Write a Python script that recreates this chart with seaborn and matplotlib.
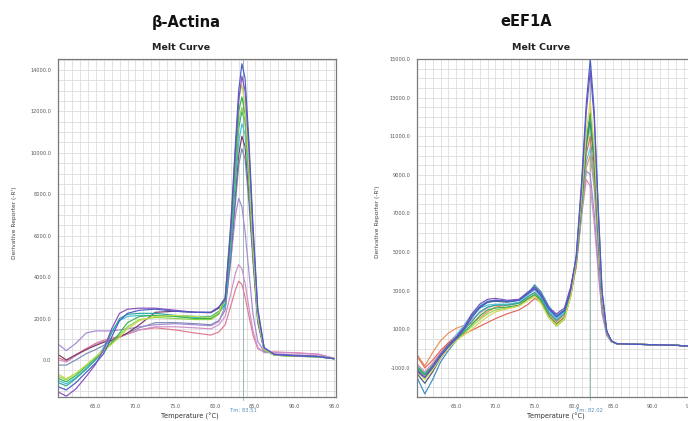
import matplotlib
matplotlib.use("Agg")
import matplotlib.pyplot as plt
from matplotlib.ticker import MultipleLocator, FormatStrFormatter
import pandas as pd
import seaborn as sns

# ---------------- β-Actina melt curves ----------------
temp_actin = [60.3, 61.3, 62.5, 63.8, 65.0, 66.0, 67.0, 68.0, 69.0, 70.5, 72.5, 75.0,
              77.5, 79.5, 80.5, 81.3, 82.0, 82.6, 83.0, 83.4, 83.8, 84.3, 84.8, 85.4,
              86.2, 87.5, 90.0, 93.0, 95.0]

actin_wells = ["blue-gray", "pink", "light purple", "lavender", "maroon", "cyan", "teal",
               "lime", "green", "yellow-green", "purple", "blue"]
actin_colors = ["#7d8db0", "#e07890", "#d08fc8", "#a688d4", "#7a3a66", "#45c2d8", "#2aa89a",
                "#8fd44a", "#3cb44a", "#c8dc50", "#8a4fc0", "#4a5cc8"]
actin_deriv = [
    [-250, -250, 0, 300, 500, 700, 900, 1100, 1300, 1550, 1800, 1800, 1750, 1700, 1900,
     2400, 4800, 7600, 9400, 10200, 9700, 7500, 4700, 1800, 450, 260, 200, 160, 60],
    [100, -50, 250, 550, 800, 950, 1050, 1150, 1250, 1450, 1550, 1450, 1300, 1200, 1350,
     1700, 2600, 3400, 3800, 3650, 3050, 2100, 1200, 550, 380, 380, 350, 280, 80],
    [0, -100, 200, 500, 750, 900, 1000, 1100, 1250, 1450, 1600, 1600, 1550, 1500, 1700,
     2100, 3200, 4200, 4600, 4400, 3700, 2500, 1400, 600, 350, 370, 340, 270, 80],
    [750, 450, 800, 1300, 1400, 1400, 1400, 1450, 1500, 1600, 1700, 1750, 1700, 1650, 1850,
     2600, 4800, 7000, 7800, 7400, 6200, 4200, 2200, 900, 400, 300, 250, 200, 70],
    [250, 0, 250, 500, 700, 850, 950, 1100, 1300, 1700, 2300, 2350, 2300, 2280, 2500,
     2600, 5100, 8100, 9900, 10800, 10300, 8000, 5000, 1900, 480, 260, 200, 160, 60],
    [-1000, -1150, -850, -400, 50, 600, 1400, 1900, 2100, 2150, 2150, 2100, 2050, 2050, 2300,
     2600, 5300, 8500, 10500, 11400, 10900, 8400, 5200, 2000, 480, 240, 190, 150, 60],
    [-1100, -1250, -900, -450, 0, 500, 1300, 2000, 2200, 2250, 2250, 2150, 2100, 2100, 2350,
     2700, 5600, 9000, 11200, 12000, 11500, 8900, 5500, 2100, 500, 230, 180, 150, 60],
    [-800, -950, -650, -250, 150, 500, 850, 1200, 1600, 1950, 2050, 2000, 1950, 1950, 2200,
     2900, 6000, 9400, 11500, 12200, 11500, 8800, 5400, 2100, 500, 230, 180, 150, 60],
    [-900, -1050, -750, -300, 100, 400, 800, 1300, 1800, 2100, 2150, 2100, 2000, 2000, 2250,
     3000, 6300, 9800, 12000, 12700, 11900, 9000, 5500, 2100, 500, 230, 180, 150, 60],
    [-700, -900, -650, -250, 150, 450, 750, 1100, 1500, 1900, 2100, 2150, 2100, 2050, 2300,
     3100, 6600, 10300, 12600, 13300, 12300, 9200, 5500, 2100, 500, 230, 180, 150, 60],
    [-1550, -1750, -1400, -800, -200, 500, 1500, 2250, 2450, 2500, 2500, 2400, 2300, 2300, 2550,
     2900, 6200, 10100, 12500, 13700, 13000, 10100, 6200, 2400, 580, 260, 200, 160, 60],
    [-1300, -1450, -1100, -600, -150, 300, 1100, 1900, 2250, 2400, 2450, 2350, 2300, 2300, 2550,
     3000, 6500, 10500, 13000, 14300, 13600, 10500, 6500, 2500, 600, 260, 200, 160, 60],
]
actin_tm = 83.51

# ---------------- eEF1A melt curves ----------------
temp_eef = [60.0, 61.0, 62.0, 63.0, 64.0, 65.0, 66.0, 67.0, 68.0, 69.0, 70.0, 71.5, 73.0,
            74.2, 75.0, 75.8, 76.8, 77.8, 78.8, 79.6, 80.3, 81.0, 81.6, 82.1, 82.6, 83.1,
            83.6, 84.2, 84.8, 85.5, 87.0, 90.0, 93.0, 95.2]

eef_wells = ["pink", "lavender", "orange", "cyan", "salmon", "lime", "teal", "slate",
             "blue-teal", "green", "yellow", "purple", "blue"]
eef_colors = ["#e08cb8", "#a088d8", "#e8905a", "#50c8e0", "#e06a55", "#98d450", "#2aa89a",
              "#4a5a70", "#3a8cc0", "#3cac4a", "#dcd45a", "#8050c0", "#4a5cc8"]
eef_deriv = [
    [-800, -1200, -750, -200, 300, 700, 1100, 1500, 1850, 2100, 2250, 2250, 2350, 2700, 2900,
     2550, 1900, 1500, 1800, 2800, 4200, 6900, 8750, 8400, 6500, 4000, 1800, 680, 350, 250,
     230, 200, 170, 110],
    [-1000, -1400, -950, -350, 150, 600, 1100, 1700, 2150, 2400, 2500, 2450, 2500, 2850, 3050,
     2700, 2000, 1600, 1900, 3000, 4300, 7100, 9200, 9000, 7000, 4300, 1900, 700, 350, 250,
     230, 200, 170, 110],
    [-300, -900, -200, 400, 800, 1050, 1200, 1300, 1600, 1900, 2150, 2250, 2350, 2600, 2750,
     2500, 1800, 1400, 1700, 2800, 4300, 7000, 9400, 10000, 8300, 5200, 2250, 780, 360, 240,
     230, 200, 170, 110],
    [-1000, -1350, -900, -300, 200, 700, 1200, 1800, 2100, 2250, 2300, 2300, 2400, 2800, 3050,
     2700, 1950, 1550, 1900, 3000, 4400, 7100, 9700, 10400, 8600, 5400, 2300, 800, 360, 240,
     230, 200, 170, 110],
    [-400, -1000, -600, -100, 300, 550, 750, 950, 1150, 1350, 1550, 1800, 2000, 2300, 2600,
     2400, 1700, 1300, 1600, 2700, 4300, 7300, 10100, 11000, 9000, 5600, 2400, 800, 370, 240,
     230, 200, 170, 110],
    [-1100, -1450, -1000, -450, 50, 450, 800, 1150, 1500, 1800, 2000, 2100, 2200, 2550, 2750,
     2400, 1600, 1150, 1500, 2700, 4400, 7400, 10400, 11500, 9500, 5900, 2500, 820, 370, 240,
     230, 200, 170, 110],
    [-900, -1300, -850, -300, 150, 550, 950, 1400, 1900, 2150, 2250, 2250, 2350, 2700, 2900,
     2600, 1850, 1450, 1800, 2900, 4500, 7500, 10600, 11800, 9700, 6000, 2550, 850, 380, 240,
     230, 200, 170, 110],
    [-1300, -1800, -1200, -500, 50, 550, 1050, 1700, 2150, 2400, 2450, 2400, 2500, 2900, 3200,
     2850, 2100, 1700, 2000, 3100, 4600, 7600, 10700, 11900, 9800, 6100, 2600, 850, 380, 240,
     230, 200, 170, 110],
    [-1500, -2350, -1600, -700, -100, 400, 1000, 1700, 2200, 2450, 2500, 2450, 2500, 2900, 3300,
     2950, 2200, 1700, 2000, 3100, 4600, 7700, 10800, 12000, 9900, 6100, 2600, 850, 380, 240,
     230, 200, 170, 110],
    [-1000, -1350, -900, -400, 100, 500, 850, 1250, 1700, 2000, 2100, 2150, 2250, 2600, 2800,
     2500, 1700, 1250, 1600, 2800, 4500, 7700, 10900, 12200, 10000, 6200, 2600, 850, 380, 240,
     230, 200, 170, 110],
    [-1200, -1600, -1100, -500, 0, 400, 700, 1000, 1350, 1650, 1900, 2050, 2200, 2500, 2700,
     2350, 1600, 1200, 1550, 2700, 4600, 7900, 11300, 12800, 10500, 6500, 2700, 850, 380, 240,
     230, 200, 170, 110],
    [-1200, -1500, -900, -300, 200, 600, 1100, 1800, 2300, 2550, 2600, 2500, 2550, 2950, 3150,
     2800, 2100, 1800, 2100, 3200, 4700, 8400, 12300, 14400, 11900, 7300, 2950, 900, 400, 250,
     230, 200, 170, 110],
    [-1100, -1500, -1000, -400, 100, 500, 1000, 1600, 2100, 2400, 2500, 2450, 2500, 2850, 3100,
     2750, 2050, 1650, 1950, 3000, 4800, 8700, 12750, 15000, 12300, 7500, 3000, 900, 400, 250,
     230, 200, 170, 110],
]
eef_tm = 82.02

sns.set_theme(style="white")
plt.rcParams["font.family"] = ["DejaVu Sans"]

W, H = 688, 421
fig = plt.figure(figsize=(W / 100, H / 100), dpi=100)
fig.patch.set_facecolor("white")


def long_table(temps, wells, values):
    rows = []
    for well, series in zip(wells, values):
        for t, v in zip(temps, series):
            rows.append({"temp": t, "deriv": v, "well": well})
    return pd.DataFrame(rows)


def panel(rect, temps, wells, colors, values, xlim, ylim, yticks, tm):
    ax = fig.add_axes(rect)
    df = long_table(temps, wells, values)
    sns.lineplot(data=df, x="temp", y="deriv", hue="well", hue_order=wells,
                 palette=dict(zip(wells, colors)), estimator=None, legend=False,
                 linewidth=0.85, ax=ax)
    ax.set_xlim(*xlim)
    ax.set_ylim(*ylim)
    ax.set_xticks([65, 70, 75, 80, 85, 90, 95])
    ax.set_yticks(yticks)
    ax.xaxis.set_minor_locator(MultipleLocator(1))
    ax.yaxis.set_minor_locator(MultipleLocator(500))
    ax.xaxis.set_major_formatter(FormatStrFormatter("%.1f"))
    ax.yaxis.set_major_formatter(FormatStrFormatter("%.1f"))
    ax.grid(which="both", color="#dadada", linewidth=0.55)
    ax.set_axisbelow(True)
    ax.tick_params(which="major", labelsize=3.6, labelcolor="#555555", length=2,
                   width=0.5, color="#888888", pad=3)
    ax.tick_params(which="minor", length=0)
    ax.set_xlabel("")
    ax.set_ylabel("")
    for s in ax.spines.values():
        s.set_color("#7a7a7a")
        s.set_linewidth(0.9)
    ax.axvline(tm, ymin=-0.01, ymax=1, color="#9ab8b8", linewidth=0.7,
               clip_on=False, zorder=1)
    return ax


def fx(px):
    return px / W


def fy(py):
    return 1 - py / H


ax_l = panel([fx(58), fy(397), 278 / W, 338 / H], temp_actin, actin_wells, actin_colors,
             actin_deriv, (60.25, 95.25), (-1790, 14530),
             [0, 2000, 4000, 6000, 8000, 10000, 12000, 14000], actin_tm)
ax_r = panel([fx(417), fy(397), 276 / W, 338 / H], temp_eef, eef_wells, eef_colors,
             eef_deriv, (60.0, 95.2), (-2510, 15000),
             [-1000, 1000, 3000, 5000, 7000, 9000, 11000, 13000, 15000], eef_tm)

# Titles and axis captions
fig.text(fx(186), fy(22), "β-Actina", ha="center", va="center", fontsize=10.5,
         fontweight="bold", color="#111111")
fig.text(fx(526), fy(22), "eEF1A", ha="center", va="center", fontsize=10.5,
         fontweight="bold", color="#111111")
for cx in (181, 541):
    fig.text(fx(cx), fy(47), "Melt Curve", ha="center", va="center", fontsize=6.8,
             fontweight="bold", color="#222222")
for cx, cy in ((15, 223), (377, 222)):
    fig.text(fx(cx), fy(cy), "Derivative Reporter (-R')", ha="center", va="center",
             rotation=90, fontsize=4.2, color="#444444")
for cx in (190, 556):
    fig.text(fx(cx), fy(416.5), "Temperature (°C)", ha="center", va="center",
             fontsize=4.8, color="#333333")
fig.text(fx(243), fy(411), f"Tm: {actin_tm:.2f}", ha="center", va="center",
         fontsize=3.8, color="#5a8fc0")
fig.text(fx(590), fy(411), f"Tm: {eef_tm:.2f}", ha="center", va="center",
         fontsize=3.8, color="#5a8fc0")

fig.savefig("out.png", dpi=100, facecolor="white")
